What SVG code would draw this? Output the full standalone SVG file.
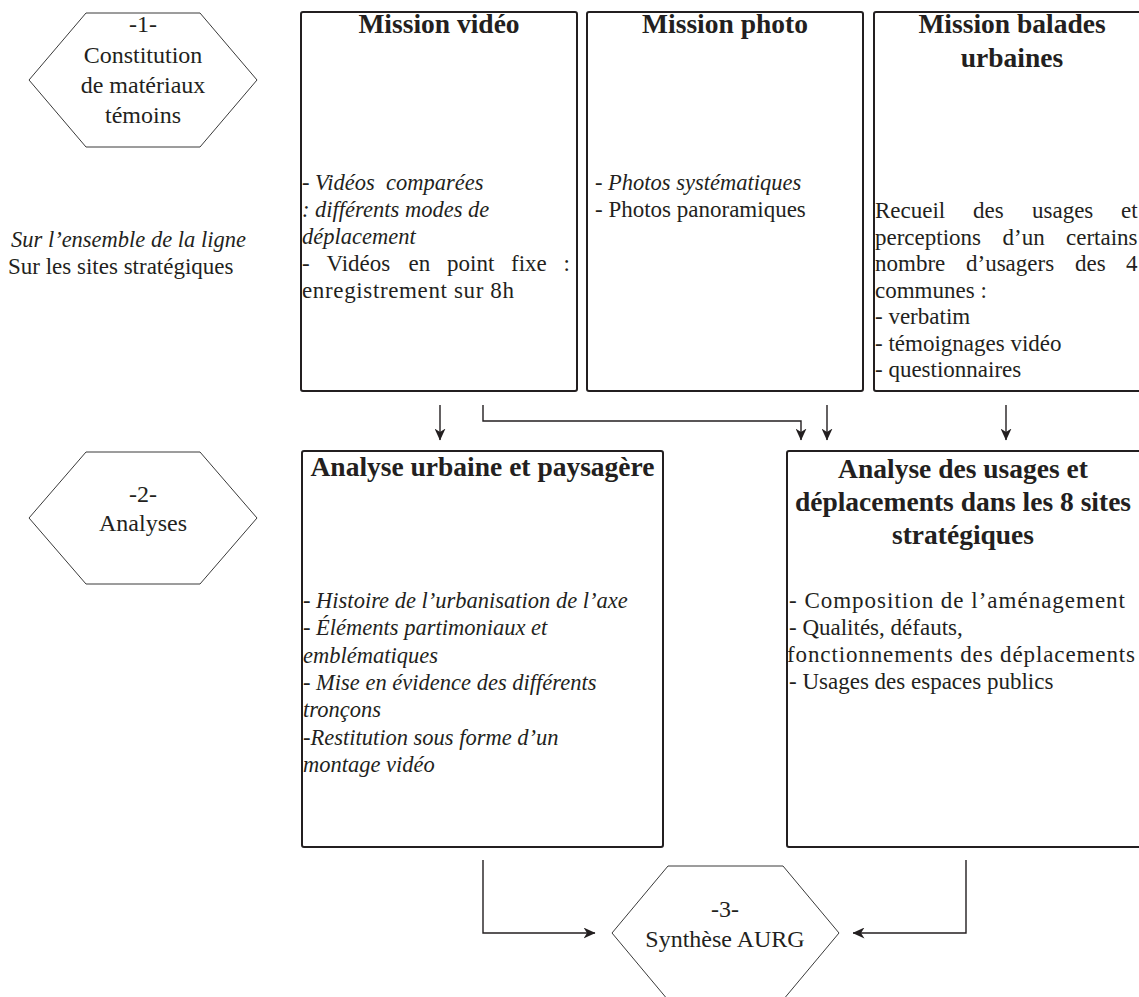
<svg xmlns="http://www.w3.org/2000/svg" width="1139" height="997" viewBox="0 0 1139 997">
<style>
text{font-family:"Liberation Serif","Times New Roman",serif;fill:#231f20}
.t{font-size:27.5px;font-weight:bold;text-anchor:middle}
.b{font-size:23px}
.i{font-size:22.5px;font-style:italic}
.h{font-size:24px;text-anchor:middle}
.box{fill:#fff;stroke:#231f20;stroke-width:2}
.hex{fill:#fff;stroke:#3a3a3a;stroke-width:1}
.con{fill:none;stroke:#231f20;stroke-width:1.4}
</style>
<defs>
<marker id="ah" markerUnits="userSpaceOnUse" markerWidth="12" markerHeight="11" viewBox="0 0 12 11" refX="11.5" refY="5.5" orient="auto">
<path d="M0,0 L12,5.5 L0,11 L3.5,5.5 Z" fill="#231f20"/>
</marker>
</defs>
<rect width="1139" height="997" fill="#fff"/>

<g id="hex1">
<polygon class="hex" points="86,13 200,13 257,80 200,147 86,147 29,80"/>
<text class="h" x="143" y="32">-1-</text>
<text class="h" x="143" y="63">Constitution</text>
<text class="h" x="143" y="93">de matériaux</text>
<text class="h" x="143" y="123">témoins</text>
</g>

<g id="scope">
<text class="i" x="11" y="247">Sur l’ensemble de la ligne</text>
<text class="b" x="8" y="274">Sur les sites stratégiques</text>
</g>

<g id="mission-video">
<rect class="box" x="301" y="12" width="276" height="379" rx="2"/>
<text class="t" x="439" y="33">Mission vidéo</text>
<text class="i" x="302" y="190">- Vidéos&#160; comparées</text>
<text class="i" x="302" y="217">: différents modes de</text>
<text class="i" x="302" y="244">déplacement</text>
<text class="b" y="271"><tspan x="302">-</tspan><tspan x="326.5">Vidéos</tspan><tspan x="408.5">en</tspan><tspan x="447">point</tspan><tspan x="511">fixe</tspan><tspan x="563.5">:</tspan></text>
<text class="b" x="302" y="298" textLength="212" lengthAdjust="spacing">enregistrement sur 8h</text>
</g>

<g id="mission-photo">
<rect class="box" x="587" y="12" width="276" height="379" rx="2"/>
<text class="t" x="725" y="33">Mission photo</text>
<text class="i" x="595" y="190">- Photos systématiques</text>
<text class="b" x="595" y="217">- Photos panoramiques</text>
</g>

<g id="mission-balades">
<rect class="box" x="874" y="12" width="276" height="379" rx="2"/>
<text class="t" x="1012" y="33">Mission balades</text>
<text class="t" x="1012" y="67">urbaines</text>
<text class="b" y="218"><tspan x="875">Recueil</tspan><tspan x="973">des</tspan><tspan x="1032">usages</tspan><tspan x="1121">et</tspan></text>
<text class="b" y="244.5"><tspan x="875">perceptions</tspan><tspan x="1002.5">d’un</tspan><tspan x="1066">certains</tspan></text>
<text class="b" y="271"><tspan x="875">nombre</tspan><tspan x="966">d’usagers</tspan><tspan x="1075">des</tspan><tspan x="1126">4</tspan></text>
<text class="b" x="875" y="297.5">communes :</text>
<text class="b" x="875" y="324">- verbatim</text>
<text class="b" x="875" y="350.5">- témoignages vidéo</text>
<text class="b" x="875" y="377">- questionnaires</text>
</g>

<g id="hex2">
<polygon class="hex" points="86,452 200,452 257,518 200,584 86,584 29,518"/>
<text class="h" x="143" y="502">-2-</text>
<text class="h" x="143" y="531">Analyses</text>
</g>

<g id="analyse-urbaine">
<rect class="box" x="302" y="451" width="361" height="396" rx="2"/>
<text class="t" x="482.5" y="476">Analyse urbaine et paysagère</text>
<text class="i" x="303" y="608">- Histoire de l’urbanisation de l’axe</text>
<text class="i" x="303" y="635">- Éléments partimoniaux et</text>
<text class="i" x="303" y="663">emblématiques</text>
<text class="i" x="303" y="690">- Mise en évidence des différents</text>
<text class="i" x="303" y="717">tronçons</text>
<text class="i" x="303" y="745">-Restitution sous forme d’un</text>
<text class="i" x="303" y="772">montage vidéo</text>
</g>

<g id="analyse-usages">
<rect class="box" x="787" y="451" width="360" height="396" rx="2"/>
<text class="t" x="963" y="478">Analyse des usages et</text>
<text class="t" x="963" y="511">déplacements dans les 8 sites</text>
<text class="t" x="963" y="544">stratégiques</text>
<text class="b" x="789" y="608" textLength="336" lengthAdjust="spacing">- Composition de l’aménagement</text>
<text class="b" x="789" y="635">- Qualités, défauts,</text>
<text class="b" x="787" y="662" textLength="348" lengthAdjust="spacing">fonctionnements des déplacements</text>
<text class="b" x="789" y="689">- Usages des espaces publics</text>
</g>

<g id="hex3">
<polygon class="hex" points="668,866 783,866 839,933 783,1000 668,1000 612,933"/>
<text class="h" x="725" y="917">-3-</text>
<text class="h" x="725" y="947">Synthèse AURG</text>
</g>

<g id="connectors">
<path class="con" d="M440,405 V440" marker-end="url(#ah)"/>
<path class="con" d="M483,405 V421 H801 V440" marker-end="url(#ah)"/>
<path class="con" d="M827,405 V440" marker-end="url(#ah)"/>
<path class="con" d="M1006,405 V440" marker-end="url(#ah)"/>
<path class="con" d="M483,860 V933 H595" marker-end="url(#ah)"/>
<path class="con" d="M966,860 V933 H853" marker-end="url(#ah)"/>
</g>
</svg>
